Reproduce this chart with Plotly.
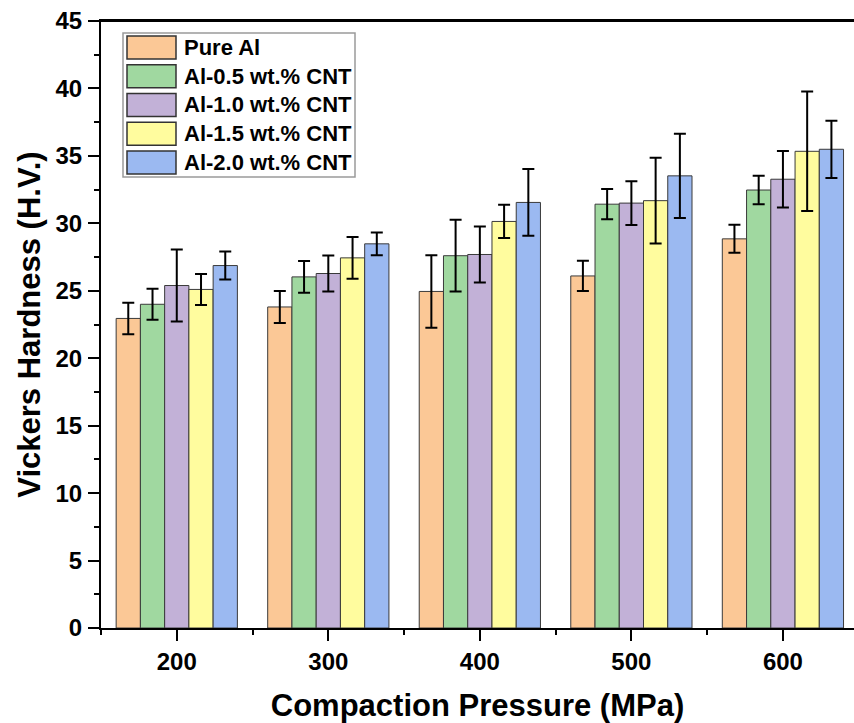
import plotly.graph_objects as go

pressures = [200, 300, 400, 500, 600]
series_names = ["Pure Al", "Al-0.5 wt.% CNT", "Al-1.0 wt.% CNT", "Al-1.5 wt.% CNT", "Al-2.0 wt.% CNT"]

pure_al = [22.95, 23.8, 24.95, 26.1, 28.85]
pure_al_err = [1.17, 1.18, 2.69, 1.12, 1.04]
cnt05 = [24.0, 26.03, 27.6, 31.42, 32.47]
cnt05_err = [1.15, 1.17, 2.66, 1.12, 1.05]
cnt10 = [25.39, 26.28, 27.69, 31.5, 33.27]
cnt10_err = [2.67, 1.33, 2.08, 1.62, 2.1]
cnt15 = [25.1, 27.44, 30.14, 31.68, 35.34]
cnt15_err = [1.15, 1.55, 1.23, 3.18, 4.43]
cnt20 = [26.87, 28.48, 31.55, 33.52, 35.49]
cnt20_err = [1.04, 0.84, 2.47, 3.12, 2.12]

values = [pure_al, cnt05, cnt10, cnt15, cnt20]
errors = [pure_al_err, cnt05_err, cnt10_err, cnt15_err, cnt20_err]
colors = ["#FBC896", "#A0D8A0", "#C2B1D7", "#FFFC9E", "#9BB9F1"]

FONT = "Arial, 'Liberation Sans', sans-serif"
W, H = 854, 723
ML, MR, MT, MB = 101, 0, 21, 95
PW, PH = W - ML - MR, H - MT - MB

fig = go.Figure()
for name, v, e, c in zip(series_names, values, errors, colors):
    fig.add_trace(go.Bar(
        x=pressures, y=v, name=name, showlegend=False,
        marker=dict(color=c, line=dict(color="#3a3a3a", width=1)),
        error_y=dict(type="data", array=e, visible=True, color="black", thickness=2, width=6),
    ))

# legend drawn as boxes + text (pixel layout converted to paper coords)
def px(xs):
    return (xs - ML) / PW

def py(ys):
    return (H - MB - ys) / PH

shapes = []
annotations = []
# top frame line
shapes.append(dict(type="line", xref="paper", yref="paper", x0=0, x1=1, y0=1, y1=1,
                   line=dict(color="black", width=2), layer="above"))
box_l, box_r, box_t, box_b = 123, 355, 33, 177
shapes.append(dict(type="rect", xref="paper", yref="paper",
                   x0=px(box_l), x1=px(box_r), y0=py(box_b), y1=py(box_t),
                   line=dict(color="#9a9a9a", width=1.5), fillcolor="white", layer="above"))
row_h = (box_b - box_t) / len(series_names)
for i, (name, c) in enumerate(zip(series_names, colors)):
    cy = box_t + row_h * (i + 0.5)
    shapes.append(dict(type="rect", xref="paper", yref="paper",
                       x0=px(127), x1=px(176), y0=py(cy + 11.5), y1=py(cy - 11.5),
                       line=dict(color="#333333", width=1.5), fillcolor=c, layer="above"))
    annotations.append(dict(xref="paper", yref="paper", x=px(182), y=py(cy),
                            xanchor="left", yanchor="middle", showarrow=False, text=name,
                            font=dict(family=FONT, size=22, color="black", weight="bold")))

fig.update_layout(
    width=W, height=H,
    margin=dict(l=ML, r=MR, t=MT, b=MB),
    paper_bgcolor="white", plot_bgcolor="white",
    barmode="group", bargap=0.2, bargroupgap=0,
    font=dict(family=FONT, color="black"),
    shapes=shapes, annotations=annotations,
    xaxis=dict(
        range=[150, 646.9], tickmode="array", tickvals=pressures,
        ticktext=[str(p) for p in pressures],
        showline=True, linecolor="black", linewidth=2, mirror=True,
        ticks="outside", ticklen=11, tickwidth=2, tickcolor="black",
        minor=dict(tickvals=[150, 250, 350, 450, 550], ticks="outside", ticklen=5, tickwidth=2, tickcolor="black"),
        showgrid=False, zeroline=False,
        tickfont=dict(family=FONT, size=24, color="black", weight="bold"),
        ticklabelstandoff=0,
        automargin=False,
        title=dict(text="Compaction Pressure (MPa)", standoff=22,
                   font=dict(family=FONT, size=31, color="black", weight="bold")),
    ),
    yaxis=dict(
        range=[0, 45], tickmode="linear", tick0=0, dtick=5,
        showline=True, linecolor="black", linewidth=2,
        ticks="outside", ticklen=11, tickwidth=2, tickcolor="black",
        minor=dict(dtick=2.5, ticks="outside", ticklen=5, tickwidth=2, tickcolor="black"),
        showgrid=False, zeroline=False,
        tickfont=dict(family=FONT, size=24, color="black", weight="bold"),
        ticklabelstandoff=1,
        automargin=False,
        title=dict(text="Vickers Hardness (H.V.)", standoff=6,
                   font=dict(family=FONT, size=31, color="black", weight="bold")),
    ),
)

# remove the page's default body margin so the figure fills the 854x723 window exactly
fig.write_html(
    "out.html",
    config={"displayModeBar": False},
    post_script="document.body.style.margin='0';document.body.style.overflow='hidden';",
)
